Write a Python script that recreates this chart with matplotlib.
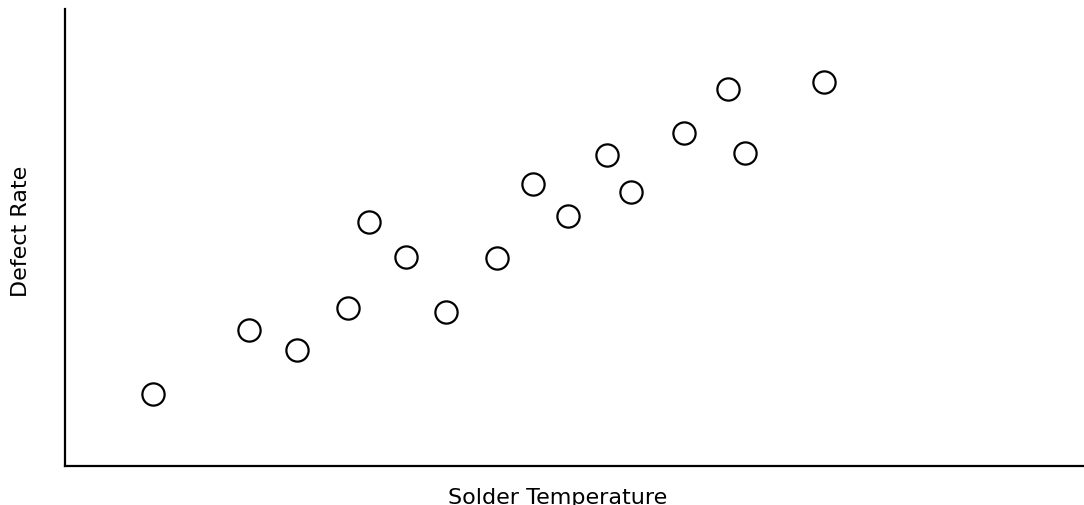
import matplotlib.pyplot as plt

# values (axis spans 0-100 on both, no ticks shown)
solder_temp = [8.6, 18.1, 22.8, 27.8, 29.8, 33.5, 37.4, 42.4, 45.9, 49.4,
               53.2, 55.5, 60.7, 65.1, 66.7, 74.5]
defect_rate = [15.8, 29.8, 25.4, 34.6, 53.5, 45.8, 33.8, 45.6, 61.8, 54.6,
               68.0, 59.9, 72.8, 82.5, 68.6, 84.0]

fig = plt.figure(figsize=(10.84, 5.06), dpi=100)
ax = fig.add_axes([0.0600, 0.0771, 0.9400, 0.9031])

ax.plot(solder_temp, defect_rate, linestyle='none', marker='o',
        markersize=16, markerfacecolor='white', markeredgecolor='black',
        markeredgewidth=1.6, clip_on=False)

ax.set_xlim(0, 100)
ax.set_ylim(0, 100)
ax.set_xticks([])
ax.set_yticks([])
for side in ['top', 'right']:
    ax.spines[side].set_visible(False)
for side in ['left', 'bottom']:
    ax.spines[side].set_linewidth(1.6)

ax.set_xlabel('Solder Temperature', fontsize=16)
ax.set_ylabel('Defect Rate', fontsize=16)
ax.xaxis.set_label_coords(0.483, -0.046)
ax.yaxis.set_label_coords(-0.033, 0.515)

fig.savefig('out.png', dpi=100)
